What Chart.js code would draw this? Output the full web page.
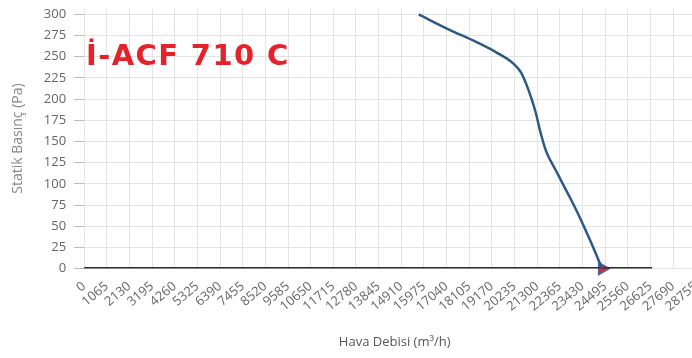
<!DOCTYPE html>
<html>
<head>
<meta charset="utf-8">
<script src="https://cdn.jsdelivr.net/npm/chart.js@4"></script>
<style>
    html, body { margin: 0; padding: 0; background: #fff; }
    #wrap { width: 692px; height: 358px; overflow: hidden; }
</style>
</head>
<body>
<div id="wrap">
    <canvas id="fanChart" width="716" height="358"></canvas>
</div>
<script>
// Fan curve, air flow (m3/h) vs static pressure (Pa)
const curveFlow = [15730, 17080, 18470, 19390, 20180, 20550, 20780, 21010, 21240, 21430, 21710, 22170, 22710, 23250, 23790, 24350];
const curvePressure = [300, 283, 267, 255, 242, 231, 218, 202, 183, 163, 139, 116, 90, 63, 33, 0];

// dark base line along zero pressure
const baseFlow = [0, 26700];
const basePressure = [0, 0];

// working point marker
const pointFlow = [24350];
const pointPressure = [0];

// axis tick labels
const flowTicks = [0, 1065, 2130, 3195, 4260, 5325, 6390, 7455, 8520, 9585, 10650, 11715, 12780, 13845,
    14910, 15975, 17040, 18105, 19170, 20235, 21300, 22365, 23430, 24495, 25560, 26625, 27690, 28755];
const pressureTicks = [0, 25, 50, 75, 100, 125, 150, 175, 200, 225, 250, 275, 300];

const chartTitle = 'İ-ACF 710 C';

function toPoints(xs, ys) {
    return xs.map((x, i) => ({ x: x, y: ys[i] }));
}

// draws the red model name inside the plot
const titlePlugin = {
    id: 'modelTitle',
    afterDatasetsDraw(chart) {
        const ctx = chart.ctx;
        ctx.save();
        ctx.font = 'bold 29px "DejaVu Sans"';
        ctx.letterSpacing = '1.4px';
        ctx.fillStyle = '#e5222b';
        ctx.textBaseline = 'alphabetic';
        ctx.fillText(chartTitle, 86, 65);
        ctx.restore();
    }
};

let ctx = document.getElementById('fanChart').getContext('2d');
let fanChart = new Chart(ctx, {
    type: 'line',
    data: {
        datasets: [
            {
                label: 'Curve',
                data: toPoints(curveFlow, curvePressure),
                borderColor: '#2c5a84',
                borderWidth: 2.5,
                pointRadius: 0,
                cubicInterpolationMode: 'monotone',
                fill: false
            },
            {
                label: 'Base',
                data: toPoints(baseFlow, basePressure),
                borderColor: '#2e2e2e',
                borderWidth: 3,
                pointRadius: 0,
                fill: false
            },
            {
                label: 'Point',
                data: toPoints(pointFlow, pointPressure),
                showLine: false,
                pointStyle: 'triangle',
                rotation: 90,
                pointRadius: 7,
                pointBackgroundColor: '#e5222b',
                pointBorderColor: '#4a62a8',
                pointBorderWidth: 1.5,
                clip: false
            }
        ]
    },
    plugins: [titlePlugin],
    options: {
        responsive: false,
        animation: false,
        layout: {
            padding: { top: 3, right: 4, left: 6, bottom: 0 }
        },
        plugins: {
            legend: { display: false },
            tooltip: { enabled: false }
        },
        scales: {
            x: {
                type: 'linear',
                min: 0,
                max: 29200,
                afterBuildTicks: function(axis) {
                    axis.ticks = flowTicks.map(v => ({ value: v }));
                },
                ticks: {
                    autoSkip: false,
                    minRotation: 40,
                    maxRotation: 40,
                    padding: 10,
                    color: '#666',
                    font: { family: 'Open Sans', size: 13 },
                    callback: function(value) {
                        return String(value);
                    }
                },
                grid: {
                    color: '#e3e3e3',
                    drawTicks: false
                },
                border: { color: '#e3e3e3' },
                title: {
                    display: true,
                    text: 'Hava Debisi (m³/h)',
                    color: '#555',
                    font: { family: 'Open Sans', size: 13 },
                    padding: { top: 10, bottom: 8 }
                }
            },
            y: {
                min: 0,
                max: 307,
                afterBuildTicks: function(axis) {
                    axis.ticks = pressureTicks.map(v => ({ value: v }));
                },
                afterFit: function(axis) {
                    // top label sits below the top edge, no extra room needed
                    axis.paddingTop = 0;
                },
                ticks: {
                    padding: 8,
                    color: '#666',
                    font: { family: 'Open Sans', size: 13 }
                },
                grid: {
                    color: '#e3e3e3',
                    tickColor: '#bbb',
                    tickLength: 10
                },
                border: { color: '#e3e3e3' },
                title: {
                    display: true,
                    text: 'Statik Basınç (Pa)',
                    color: '#888',
                    font: { family: 'Open Sans', size: 14 },
                    padding: { top: 4, bottom: 9 }
                }
            }
        }
    }
});
</script>
</body>
</html>
